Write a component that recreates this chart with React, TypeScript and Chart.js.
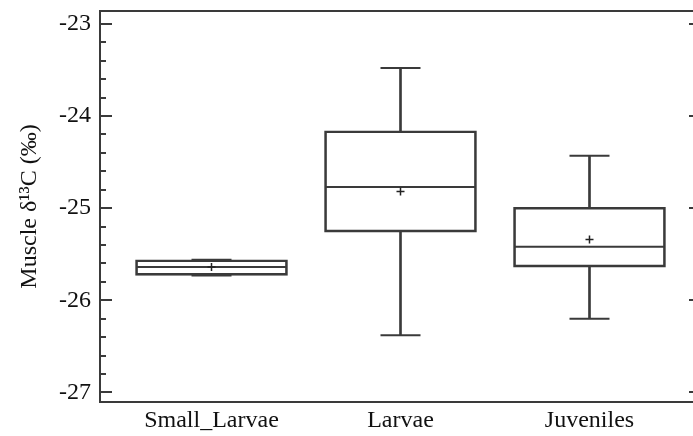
import React, { useEffect, useRef } from "react";
import { Chart, registerables } from "chart.js";

Chart.register(...registerables);

const CATEGORIES = ["Small_Larvae", "Larvae", "Juveniles"];
const WHISKER_LOW = [-25.73, -26.38, -26.2];
const Q1 = [-25.73, -25.26, -25.64];
const MEDIAN = [-25.64, -24.77, -25.42];
const Q3 = [-25.56, -24.16, -24.99];
const WHISKER_HIGH = [-25.56, -23.48, -24.43];
const MEAN = [-25.64, -24.82, -25.34];

const Y_MIN = -27.104;
const Y_MAX = -22.86;
const Y_TITLE = "Muscle δ¹³C (‰)";

const INK = "#3a3a3a";
const FONT = "'Liberation Serif', 'Times New Roman', serif";

const framePlugin = {
  id: "frame",
  afterDraw(chart: any) {
    const { ctx, chartArea } = chart;
    const y = chart.scales.y;
    const { left, right, top, bottom } = chartArea;
    ctx.save();
    ctx.strokeStyle = INK;
    ctx.lineWidth = 2;
    ctx.beginPath();
    ctx.moveTo(left, top);
    ctx.lineTo(left, bottom);
    ctx.moveTo(left - 1, top);
    ctx.lineTo(right, top);
    ctx.moveTo(left - 1, bottom);
    ctx.lineTo(right, bottom);
    ctx.moveTo(right, top);
    ctx.lineTo(right, bottom);
    ctx.stroke();
    ctx.beginPath();
    for (const t of y.ticks) {
      const py = Math.round(y.getPixelForValue(t.value));
      ctx.moveTo(left, py);
      ctx.lineTo(left + 12, py);
      ctx.moveTo(right, py);
      ctx.lineTo(right - 12, py);
    }
    for (let k = -27 * 5; k <= -23 * 5; k++) {
      if (k % 5 === 0) continue;
      const v = k / 5;
      if (v < Y_MIN || v > Y_MAX) continue;
      const py = Math.round(y.getPixelForValue(v));
      ctx.moveTo(left, py);
      ctx.lineTo(left + 6, py);
    }
    ctx.stroke();
    ctx.restore();
  },
};

export default function App() {
  const ref = useRef<HTMLCanvasElement | null>(null);

  useEffect(() => {
    document.body.style.margin = "0";
    document.documentElement.style.overflow = "hidden";
    if (!ref.current) return;

    const pos = CATEGORIES.map((_, i) => i + 1);

    const chart = new Chart(ref.current, {
      type: "bar",
      data: {
        datasets: [
          {
            type: "bar",
            order: 5,
            data: pos.map((x, i) => ({ x, y: [WHISKER_LOW[i], Q1[i]] })) as any,
            backgroundColor: INK,
            borderWidth: 0,
            barThickness: 2,
            grouped: false,
          } as any,
          {
            type: "bar",
            order: 5,
            data: pos.map((x, i) => ({ x, y: [Q3[i], WHISKER_HIGH[i]] })) as any,
            backgroundColor: INK,
            borderWidth: 0,
            barThickness: 2,
            grouped: false,
          } as any,
          {
            type: "bar",
            order: 4,
            data: pos.map((x, i) => ({ x, y: [Q1[i], Q3[i]] })) as any,
            backgroundColor: "rgba(255,255,255,0)",
            borderColor: INK,
            borderWidth: 2,
            borderSkipped: false,
            barThickness: 152,
            grouped: false,
          } as any,
          {
            type: "scatter",
            order: 1,
            clip: false,
            data: pos.map((x, i) => ({ x, y: WHISKER_HIGH[i] })),
            pointStyle: "line",
            pointRadius: 20,
            borderColor: INK,
            borderWidth: 2,
          } as any,
          {
            type: "scatter",
            order: 1,
            clip: false,
            data: pos.map((x, i) => ({ x, y: WHISKER_LOW[i] })),
            pointStyle: "line",
            pointRadius: 20,
            borderColor: INK,
            borderWidth: 2,
          } as any,
          {
            type: "scatter",
            order: 1,
            clip: false,
            data: pos.map((x, i) => ({ x, y: MEDIAN[i] })),
            pointStyle: "line",
            pointRadius: 75,
            borderColor: INK,
            borderWidth: 2,
          } as any,
          {
            type: "scatter",
            order: 0,
            clip: false,
            data: pos.map((x, i) => ({ x, y: MEAN[i] })),
            pointStyle: "cross",
            pointRadius: 4,
            borderColor: "#222",
            borderWidth: 1.5,
          } as any,
        ],
      },
      options: {
        animation: false,
        responsive: false,
        maintainAspectRatio: false,
        layout: { autoPadding: false, padding: { top: 11, right: 1, bottom: 0, left: 0 } },
        plugins: { legend: { display: false }, tooltip: { enabled: false } },
        scales: {
          x: {
            type: "linear",
            min: 0.41,
            max: 3.59,
            offset: false,
            grid: { display: false, drawTicks: false },
            border: { display: false },
            afterBuildTicks(scale: any) {
              scale.ticks = pos.map((v) => ({ value: v }));
            },
            afterFit(scale: any) {
              scale.height = 34;
              scale.paddingLeft = 0;
              scale.paddingRight = 0;
            },
            ticks: {
              autoSkip: false,
              maxRotation: 0,
              padding: 4,
              color: "#111",
              font: { family: FONT, size: 24 },
              callback: (v: any) => CATEGORIES[Math.round(Number(v)) - 1] ?? "",
            },
          },
          y: {
            type: "linear",
            min: Y_MIN,
            max: Y_MAX,
            grid: { display: false, drawTicks: false },
            border: { display: false },
            afterFit(scale: any) {
              scale.width = 100;
              scale.paddingTop = 0;
              scale.paddingBottom = 0;
            },
            ticks: {
              stepSize: 1,
              includeBounds: false,
              padding: 9,
              color: "#111",
              font: { family: FONT, size: 24 },
              callback: (v: any) => String(v),
            },
            title: {
              display: true,
              text: Y_TITLE,
              color: "#111",
              font: { family: FONT, size: 24 },
              padding: { top: 15, bottom: 0 },
            },
          },
        },
      },
      plugins: [framePlugin],
    } as any);

    return () => chart.destroy();
  }, []);

  return (
    <div style={{ width: 702, height: 436 }}>
      <canvas ref={ref} width={702} height={436} style={{ display: "block" }} />
    </div>
  );
}
